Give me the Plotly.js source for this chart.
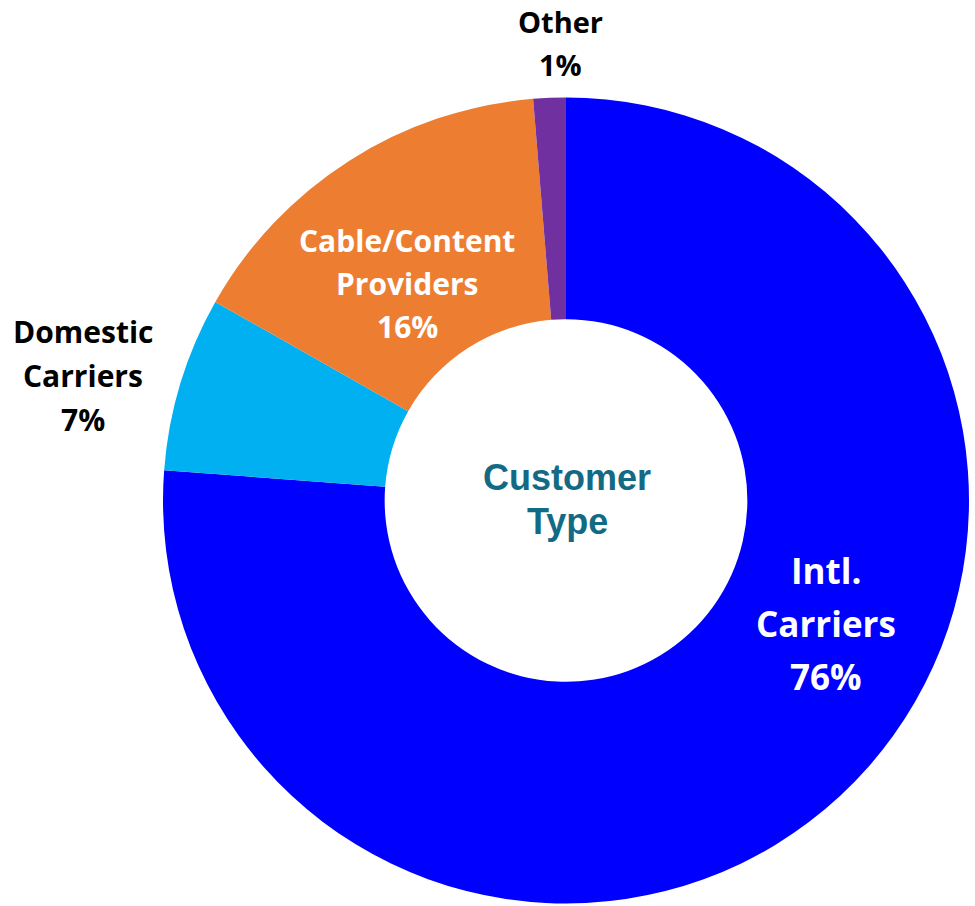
<!DOCTYPE html>
<html>
<head>
<meta charset="utf-8">
<script src="https://cdn.plot.ly/plotly-3.0.1.min.js"></script>
<style>html,body{margin:0;padding:0;background:#fff;}#chart{width:975px;height:906px;}</style>
</head>
<body>
<div id="chart"></div>
<script>
// Data
const categories = ["Intl. Carriers", "Domestic Carriers", "Cable/Content Providers", "Other"];
const labelLines = [["Intl.", "Carriers"], ["Domestic", "Carriers"], ["Cable/Content", "Providers"], ["Other"]];
const shares = [76.2, 7.0, 15.5, 1.3];
const colors = ["#0000FF", "#00B0F0", "#ED7D31", "#7030A0"];
const centerTitle = ["Customer", "Type"];

// Label styling / placement (pixels in a 975x906 page)
const W = 975, H = 906;
const labelStyle = [
  {x: 826, y0: 570, dy: 53, size: 35, color: "#FFFFFF"},
  {x: 83,  y0: 331, dy: 44, size: 30, color: "#000000"},
  {x: 407, y0: 240, dy: 43.5, size: 30, color: "#FFFFFF"},
  {x: 560, y0: 21,  dy: 43, size: 29, color: "#000000"}
];

const annotations = [];
categories.forEach((c, i) => {
  const lines = labelLines[i].concat([Math.round(shares[i]) + "%"]);
  const s = labelStyle[i];
  lines.forEach((ln, j) => {
    annotations.push({
      text: "<b>" + ln + "</b>",
      xref: "paper", yref: "paper",
      x: s.x / W, y: 1 - (s.y0 + j * s.dy) / H,
      xanchor: "center", yanchor: "middle",
      showarrow: false,
      font: {family: "'Open Sans', Lato, sans-serif", size: s.size, color: s.color}
    });
  });
});
centerTitle.forEach((ln, j) => {
  annotations.push({
    text: "<b>" + ln + "</b>",
    xref: "paper", yref: "paper",
    x: 567 / W, y: 1 - (477 + j * 44) / H,
    xanchor: "center", yanchor: "middle",
    showarrow: false,
    font: {family: "'Liberation Sans', Arial, sans-serif", size: 36, color: "#136A84"}
  });
});

const cx = 566, cy = 500.5, r = 403;
const trace = {
  type: "pie",
  labels: categories,
  values: shares,
  sort: false,
  direction: "clockwise",
  rotation: 0,
  hole: 0.45,
  textinfo: "none",
  hoverinfo: "label+percent",
  marker: {colors: colors, line: {width: 0}},
  domain: {x: [(cx - r) / W, (cx + r) / W], y: [(H - cy - r) / H, (H - cy + r) / H]}
};

const layout = {
  width: W, height: H,
  margin: {l: 0, r: 0, t: 0, b: 0},
  showlegend: false,
  paper_bgcolor: "#FFFFFF",
  annotations: annotations
};

Plotly.newPlot("chart", [trace], layout, {displayModeBar: false, staticPlot: true});
</script>
</body>
</html>
